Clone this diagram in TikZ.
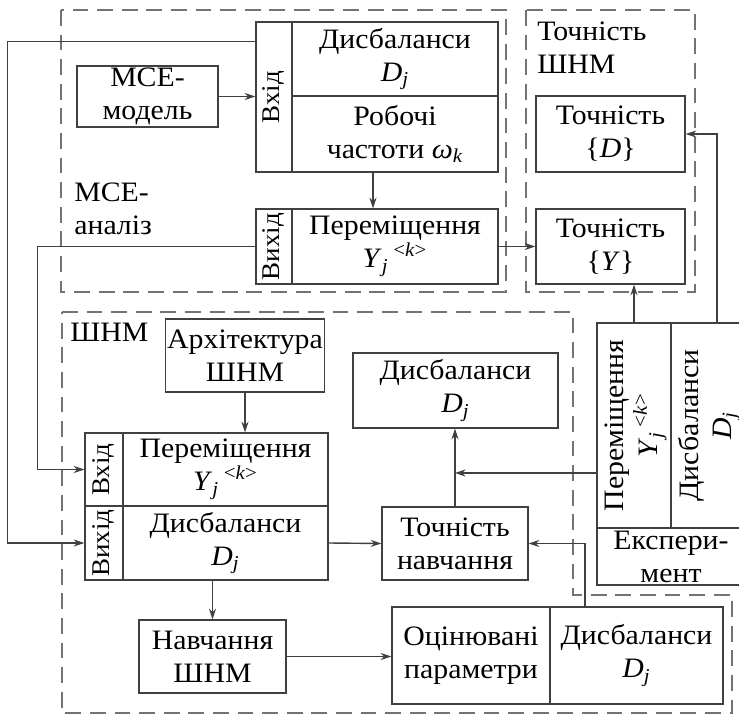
\documentclass[tikz,border=0pt]{standalone}
\usepackage{fontspec}
\setmainfont{Liberation Serif}[FakeStretch=1.06]
\usepackage{graphicx}
\usetikzlibrary{arrows.meta}

\newcommand{\Dj}{\textit{D}\textsubscript{\textit{j}}}
\newcommand{\Yjk}{\textit{Y}\textsubscript{\textit{j}}\,\textsuperscript{<\textit{k}>}}

\begin{document}
\begin{tikzpicture}[x=0.02cm, y=-0.02cm,
  box/.style={draw=black!75, line width=0.8pt, inner sep=1pt, align=center,
    font=\fontsize{16}{18.8}\selectfont},
  strip/.style={box, inner sep=0pt, font=\fontsize{14.5}{17}\selectfont},
  zone/.style={draw=black!55, line width=1.2pt, dash pattern=on 9pt off 5pt},
  arr/.style={draw=black!75, line width=0.8pt, -{Stealth[length=6pt,width=4pt]}},
  lbl/.style={inner sep=0pt, align=left, anchor=north west,
    font=\fontsize{16}{18.8}\selectfont}]
\clip (0,0) rectangle (739,715);

% zones
\draw[zone] (61,10) rectangle (506,292);
\draw[zone] (526,10) rectangle (695,292);
\draw[zone] (62,312) -- (573,312) -- (573,595) -- (732,595) -- (732,713) -- (62,713) -- cycle;

\node[lbl] (lblMce) at (74,183) {МСЕ-\\аналіз};
\node[lbl] (lblAcc) at (537,22) {Точність\\ШНМ};
\node[lbl] (lblNn) at (70,323) {ШНМ};

% МСЕ-аналіз
\node[strip, minimum width=0.72cm, minimum height=3cm] (mceIn) at (274,97) {\rotatebox{90}{Вхід}};
\node[box, minimum width=4.12cm, minimum height=1.48cm] (mceDis) at (395,59) {Дисбаланси\\\Dj};
\node[box, minimum width=4.12cm, minimum height=1.52cm] (mceFreq) at (395,134) {Робочі\\частоти\ \textit{ω}\textsubscript{\textit{k}}};
\node[box, minimum width=2.82cm, minimum height=1.22cm] (mceModel) at (147.5,96.5) {МСЕ-\\модель};
\node[strip, minimum width=0.72cm, minimum height=1.5cm] (mceOut) at (274,246.5) {\rotatebox{90}{Вихід}};
\node[box, minimum width=4.12cm, minimum height=1.5cm] (mceDisp) at (395,246.5) {Переміщення\\\Yjk};

% Точність ШНМ
\node[box, minimum width=2.98cm, minimum height=1.52cm] (accD) at (610.5,134) {Точність\\\{\textit{D}\}};
\node[box, minimum width=2.98cm, minimum height=1.5cm] (accY) at (610.5,246.5) {Точність\\\{\textit{Y}\}};

% ШНМ
\node[box, minimum width=3.16cm, minimum height=1.46cm] (arch) at (245,355.5) {Архітектура\\ШНМ};
\node[strip, minimum width=0.76cm, minimum height=1.46cm] (nnIn) at (104,469.5) {\rotatebox{90}{Вхід}};
\node[box, minimum width=4.1cm, minimum height=1.46cm] (nnDisp) at (225.5,469.5) {Переміщення\\\Yjk};
\node[strip, minimum width=0.76cm, minimum height=1.48cm] (nnOut) at (104,543) {\rotatebox{90}{Вихід}};
\node[box, minimum width=4.1cm, minimum height=1.48cm] (nnDis) at (225.5,543) {Дисбаланси\\\Dj};
\node[box, minimum width=2.94cm, minimum height=1.46cm] (train) at (212.5,656.5) {Навчання\\ШНМ};
\node[box, minimum width=4.1cm, minimum height=1.5cm] (resDis) at (455.5,390.5) {Дисбаланси\\\Dj};
\node[box, minimum width=2.92cm, minimum height=1.46cm] (accTrain) at (455,543.5) {Точність\\навчання};
\node[box, minimum width=3.16cm, minimum height=1.94cm] (estPar) at (471,655.5) {Оцінювані\\параметри};
\node[box, minimum width=3.46cm, minimum height=1.94cm] (estDis) at (636.5,655.5) {Дисбаланси\\\Dj};

% Експеримент
\node[box, minimum width=1.48cm, minimum height=4.1cm] (expDisp) at (634,425.5)
  {\rotatebox{90}{\begin{tabular}{@{}c@{}}Переміщення\\\Yjk\end{tabular}}};
\node[box, minimum width=1.48cm, minimum height=4.1cm] (expDis) at (708,425.5)
  {\rotatebox{90}{\begin{tabular}{@{}c@{}}Дисбаланси\\\Dj\end{tabular}}};
\node[box, minimum width=2.96cm, minimum height=1.14cm] (expName) at (671,556.5) {Експери-\\мент};

% connectors
\draw[arr] (mceModel.east) -- (mceModel.east -| mceIn.west);
\draw[arr] ([xshift=-0.44cm]mceFreq.south) -- ([xshift=-0.44cm]mceDisp.north);
\draw[arr] ([yshift=-0.4cm]mceIn.north west) -- ++(-248,0) |- (nnOut.west);
\draw[arr] (mceOut.west) -- ++(-218,0) |- (nnIn.west);
\draw[arr] (mceDisp.east) -- (accY.west);
\draw[arr] (arch.south) -- (arch.south |- nnDisp.north);
\draw[arr] (nnDis.east) -- (accTrain.west);
\draw[arr] (train.north |- nnDis.south) -- (train.north);
\draw[arr] (train.east) -- (estPar.west |- train.east);
\draw[arr] (accTrain.north) -- (accTrain.north |- resDis.south);
\coordinate (expOut) at ([yshift=-0.95cm]expDisp.west);
\draw[arr] (expOut) -- (expOut -| accTrain.north);
\draw[arr] (expDisp.north) -- (expDisp.north |- accY.south);
\draw[arr] ([xshift=0.18cm]expDis.north) |- (accD.east);
\draw[arr] ([xshift=-1.03cm]estDis.north) |- (accTrain.east);

\end{tikzpicture}
\end{document}
